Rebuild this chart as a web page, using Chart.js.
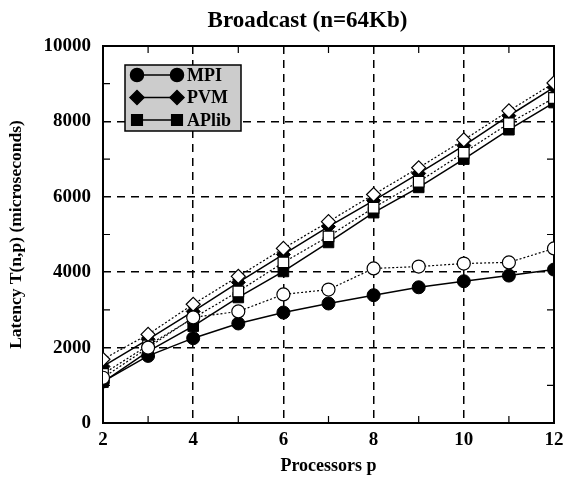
<!DOCTYPE html>
<html><head><meta charset="utf-8">
<script src="https://cdn.jsdelivr.net/npm/chart.js@4"></script>
<style>html,body{margin:0;padding:0;background:#fff}</style>
</head><body>
<canvas id="c" width="563" height="481"></canvas>
<script>
const chartTitle = "Broadcast (n=64Kb)";
const xTitle = "Processors p";
const yTitle = "Latency T(n,p) (microseconds)";
const processors = [2, 3, 4, 5, 6, 7, 8, 9, 10, 11, 12];
const mpiMeasured   = [1100, 1780, 2250, 2640, 2930, 3170, 3390, 3600, 3760, 3910, 4070];
const mpiModel      = [1200, 2000, 2800, 2960, 3410, 3540, 4100, 4150, 4230, 4260, 4630];
const pvmMeasured   = [1500, 2220, 2960, 3730, 4470, 5210, 5900, 6620, 7360, 8150, 8900];
const pvmModel      = [1690, 2350, 3150, 3890, 4630, 5340, 6060, 6770, 7510, 8280, 9020];
const aplibMeasured = [1085, 1900, 2570, 3330, 4020, 4790, 5580, 6250, 7000, 7780, 8500];
const aplibModel    = [1300, 2060, 2780, 3490, 4260, 4950, 5710, 6400, 7170, 7950, 8620];
const legendLabels = ["MPI", "PVM", "APlib"];
const yTickValues = [0, 2000, 4000, 6000, 8000, 10000];

const FONT = "'Liberation Serif', 'Times New Roman', serif";
const pts = arr => processors.map((p, i) => ({x: p, y: arr[i]}));

function ds(label, data, style, radius, filled) {
  return {
    label, data: pts(data), pointStyle: style, pointRadius: radius, pointHoverRadius: radius,
    borderColor: '#000', backgroundColor: filled ? '#000' : '#fff',
    pointBackgroundColor: filled ? '#000' : '#fff', pointBorderColor: '#000',
    pointBorderWidth: filled ? 1 : 1.2,
    borderWidth: filled ? 1.5 : 1.2, borderDash: filled ? [] : [2, 2],
    tension: 0, fill: false, order: filled ? 1 : 0, showLine: true,
    legendShow: filled
  };
}

const frame = {
  id: 'frame',
  beforeDatasetsDraw(chart) {
    const {ctx, chartArea: a, scales: {x, y}} = chart;
    ctx.save();
    ctx.strokeStyle = '#000';
    ctx.lineWidth = 1.2;
    ctx.setLineDash([]);
    ctx.beginPath();
    for (let v = 3; v <= 11; v += 2) {
      const px = x.getPixelForValue(v);
      ctx.moveTo(px, a.bottom); ctx.lineTo(px, a.bottom - 7);
      ctx.moveTo(px, a.top); ctx.lineTo(px, a.top + 7);
    }
    for (let v = 1000; v <= 9000; v += 2000) {
      const py = y.getPixelForValue(v);
      ctx.moveTo(a.left, py); ctx.lineTo(a.left + 7, py);
      ctx.moveTo(a.right, py); ctx.lineTo(a.right - 7, py);
    }
    ctx.stroke();
    ctx.lineWidth = 2;
    ctx.strokeRect(a.left, a.top, a.right - a.left, a.bottom - a.top);
    ctx.restore();
  },
  afterDraw(chart) {
    const {ctx, chartArea: a} = chart;
    ctx.save();
    // title
    ctx.fillStyle = '#000';
    ctx.font = "bold 23px " + FONT;
    ctx.textAlign = 'center';
    ctx.textBaseline = 'middle';
    ctx.fillText(chartTitle, (a.left + a.right) / 2 - 21, 21);
    // legend
    const bx = a.left + 22, by = a.top + 19, bw = 116, bh = 66;
    ctx.fillStyle = '#cccccc';
    ctx.fillRect(bx, by, bw, bh);
    ctx.strokeStyle = '#000';
    ctx.lineWidth = 1.5;
    ctx.strokeRect(bx, by, bw, bh);
    const items = chart.data.datasets.filter(d => d.legendShow);
    items.forEach((d, i) => {
      const cy = by + 10 + i * 22.5;
      const x0 = bx + 12, x1 = bx + 52;
      ctx.lineWidth = 1.5;
      ctx.setLineDash([]);
      ctx.beginPath(); ctx.moveTo(x0, cy); ctx.lineTo(x1, cy); ctx.stroke();
      ctx.fillStyle = '#000';
      const o = {pointStyle: d.pointStyle, radius: d.pointRadius, borderWidth: 1, rotation: 0};
      Chart.helpers.drawPoint(ctx, o, x0, cy);
      Chart.helpers.drawPoint(ctx, o, x1, cy);
      ctx.fillStyle = '#000';
      ctx.font = "bold 18px " + FONT;
      ctx.textAlign = 'left';
      ctx.textBaseline = 'middle';
      ctx.fillText(legendLabels[i], x1 + 10, cy + 1);
    });
    ctx.restore();
  }
};

new Chart(document.getElementById('c'), {
  type: 'line',
  data: {
    datasets: [
      ds(legendLabels[0], mpiMeasured, 'circle', 6.5, true),
      ds(legendLabels[0] + ' (model)', mpiModel, 'circle', 6.5, false),
      ds(legendLabels[1], pvmMeasured, 'rectRot', 7, true),
      ds(legendLabels[1] + ' (model)', pvmModel, 'rectRot', 7, false),
      ds(legendLabels[2], aplibMeasured, 'rect', 7.5, true),
      ds(legendLabels[2] + ' (model)', aplibModel, 'rect', 7.5, false)
    ]
  },
  options: {
    responsive: false,
    animation: false,
    devicePixelRatio: 1,
    layout: {padding: {left: 0, right: 0, top: 46, bottom: 0}},
    plugins: {legend: {display: false}, title: {display: false}, tooltip: {enabled: false}},
    scales: {
      x: {
        type: 'linear', min: 2, max: 12,
        afterFit: s => { s.height = 58; s.paddingRight = 9; s.paddingLeft = 0; },
        afterBuildTicks: s => { s.ticks = processors.map(v => ({value: v})); },
        ticks: {
          color: '#000', padding: 6, maxRotation: 0, autoSkip: false,
          font: {family: FONT, size: 19, weight: 'bold'},
          callback: v => (v % 2 === 0 ? String(v) : '')
        },
        grid: {
          drawTicks: false, lineWidth: 1.5,
          color: c => (c.tick && c.tick.value % 2 === 0 && c.tick.value > 2 && c.tick.value < 12) ? '#000' : 'rgba(0,0,0,0)'
        },
        border: {display: false, dash: [8, 6]},
        title: {display: true, text: xTitle, color: '#000', padding: {top: 0, bottom: 4},
                font: {family: FONT, size: 18, weight: 'bold'}}
      },
      y: {
        type: 'linear', min: 0, max: 10000,
        afterFit: s => { s.width = 103; },
        afterBuildTicks: s => { s.ticks = yTickValues.map(v => ({value: v})); },
        ticks: {
          color: '#000', padding: 12,
          font: {family: FONT, size: 19, weight: 'bold'},
          callback: v => String(v)
        },
        grid: {
          drawTicks: false, lineWidth: 1.5,
          color: c => (c.tick && c.tick.value > 0 && c.tick.value < 10000) ? '#000' : 'rgba(0,0,0,0)'
        },
        border: {display: false, dash: [8, 6]},
        title: {display: true, text: yTitle, color: '#000', padding: {top: 6, bottom: 0},
                font: {family: FONT, size: 17.5, weight: 'bold'}}
      }
    }
  },
  plugins: [frame]
});
</script>
</body></html>
